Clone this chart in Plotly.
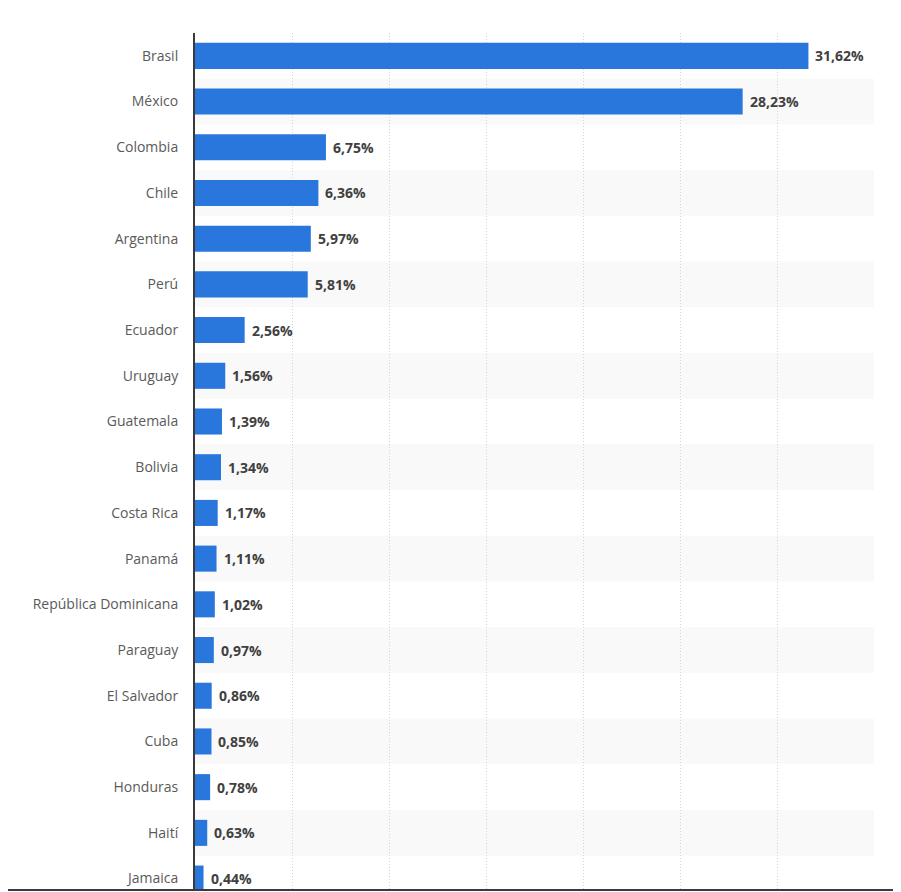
import plotly.graph_objects as go

countries = ["Brasil", "México", "Colombia", "Chile", "Argentina", "Perú", "Ecuador",
             "Uruguay", "Guatemala", "Bolivia", "Costa Rica", "Panamá",
             "República Dominicana", "Paraguay", "El Salvador", "Cuba", "Honduras",
             "Haití", "Jamaica"]
shares = [31.62, 28.23, 6.75, 6.36, 5.97, 5.81, 2.56, 1.56, 1.39, 1.34, 1.17, 1.11,
          1.02, 0.97, 0.86, 0.85, 0.78, 0.63, 0.44]
labels = [f"{v:.2f}".replace(".", ",") + "%" for v in shares]

BAR = "#2976DC"
fig = go.Figure()
fig.add_trace(go.Bar(
    y=countries, x=shares, orientation="h",
    marker=dict(color=BAR, line=dict(width=0)),
    width=0.57, hoverinfo="skip",
))

annotations = []
for c, v, t in zip(countries, shares, labels):
    annotations.append(dict(x=v, y=c, xref="x", yref="y", text=f"<b>{t}</b>",
                            showarrow=False, xanchor="left", yanchor="middle", xshift=5,
                            font=dict(family="Open Sans", size=14, color="#404040")))

shapes = []
for i in range(1, len(countries), 2):
    shapes.append(dict(type="rect", xref="paper", yref="y", x0=0, x1=1,
                       y0=i - 0.5, y1=i + 0.5, fillcolor="#f9f9f9",
                       line=dict(width=0), layer="below"))
# bottom border line across the full width
shapes.append(dict(type="line", xref="paper", yref="paper", x0=-0.3, x1=1.1,
                   y0=0, y1=0, line=dict(color="#3a3a3a", width=2)))

fig.update_layout(
    width=893, height=884,
    margin=dict(l=187, r=27, t=25, b=2),
    paper_bgcolor="white", plot_bgcolor="rgba(0,0,0,0)",
    showlegend=False,
    shapes=shapes, annotations=annotations,
    xaxis=dict(range=[0, 35], dtick=5, showgrid=True, gridcolor="#d4d4d4",
               griddash="1px,2px", gridwidth=1, zeroline=False, showticklabels=False,
               showline=False, fixedrange=True),
    yaxis=dict(autorange=False, range=[18.25, -0.5], showgrid=False, zeroline=False,
               showline=True, linecolor="#3a3a3a", linewidth=2,
               ticks="", ticklabelstandoff=12,
               tickfont=dict(family="Open Sans", size=14, color="#5a5a5a"),
               fixedrange=True),
)

fig.write_html("out.html")
